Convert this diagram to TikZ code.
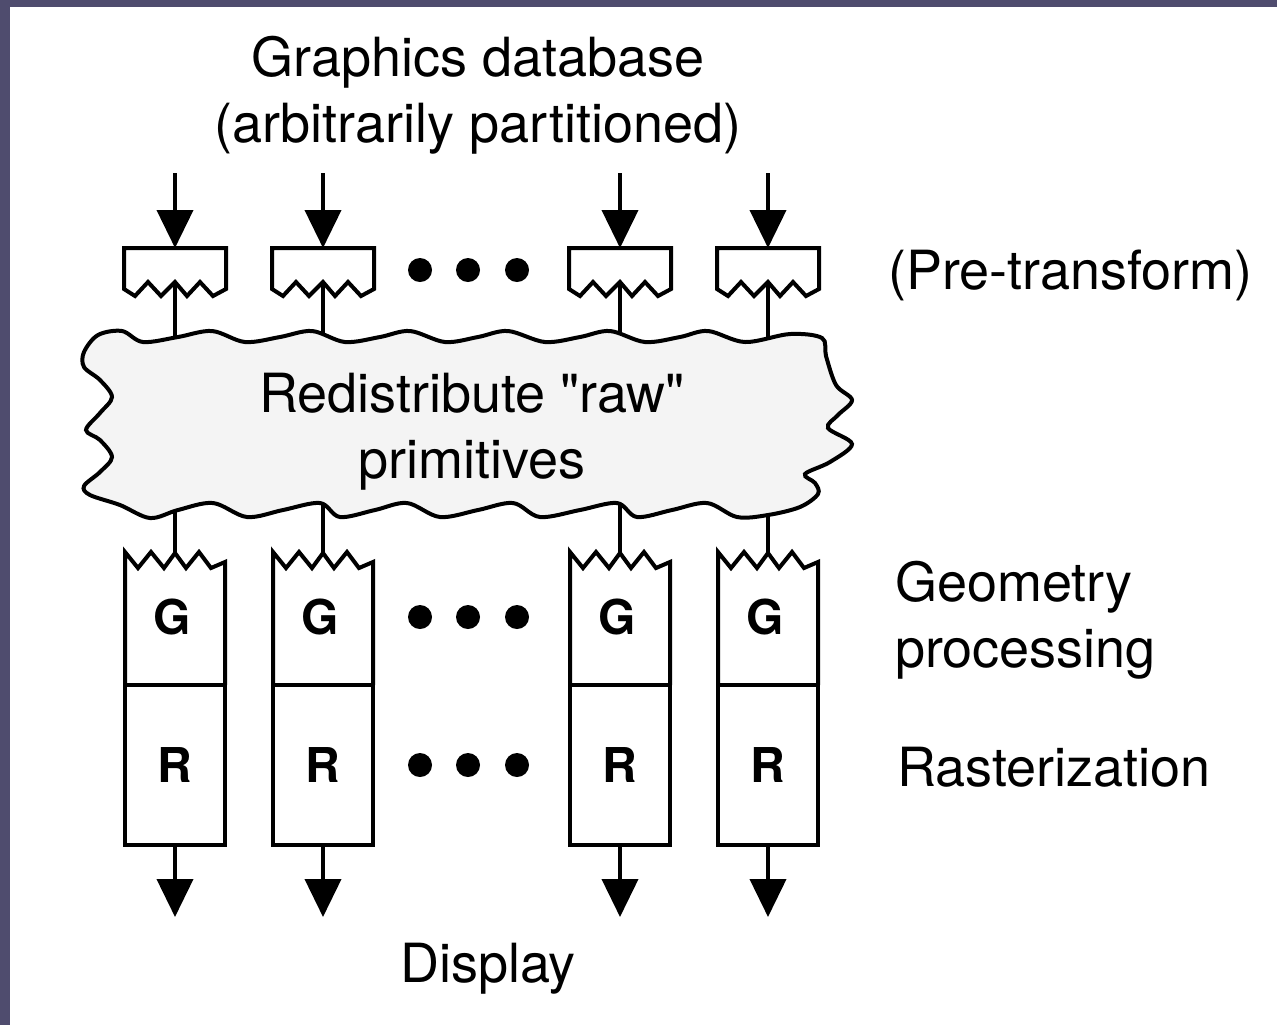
\documentclass[tikz,border=0pt]{standalone}
\usepackage{fontspec}
\setmainfont{TeX Gyre Heros}
\usetikzlibrary{arrows.meta}
\definecolor{frame}{HTML}{4F4C6E}
\definecolor{cloudgray}{HTML}{F4F4F4}

\begin{document}
\begin{tikzpicture}[x=0.5pt,y=-0.5pt,line width=2pt,
    arr/.style={-{Triangle[width=18pt,length=19pt]}},
    lbl/.style={font=\fontsize{27}{33}\selectfont,inner sep=0pt},
    unit/.style={font=\bfseries\fontsize{24}{28}\selectfont,inner sep=0pt},
    rbox/.style={draw,unit,minimum width=50pt,minimum height=80pt},
    dot/.style={circle,fill=black,inner sep=0pt,minimum size=12pt}]
    % frame
    \fill[frame] (0,0) rectangle (1277,1025);
    \fill[white] (10,7) rectangle (1277,1025);
    \useasboundingbox (0,0) rectangle (1277,1025);

    % columns: x / cloud top / cloud bottom
    \foreach \c/\t/\b [count=\i] in {175/337/512, 323/333/504, 620/333/504, 768/333/515} {
        \coordinate (in\i) at (\c,173);
        \coordinate (pre\i) at (\c,248);
        \coordinate (pz\i) at (\c,283);
        \coordinate (ct\i) at (\c,\t+8);
        \coordinate (cb\i) at (\c,\b-8);
        \coordinate (gz\i) at (\c,554);
        \coordinate (out\i) at (\c,917);
        % pre-transform
        \draw (\c-51,289) -- (\c-51,248) -- (\c+51,248) -- (\c+51,289) -- (\c+38,296) -- (\c+25,282)
            -- (\c+12,296) -- (\c,282) -- (\c-14,296) -- (\c-27,282) -- (\c-40,296) -- cycle;
        \draw[arr] (in\i) -- (pre\i);
        \draw (pz\i) -- (ct\i);
        \draw (cb\i) -- (gz\i);
        % geometry
        \draw (\c-50,685) -- (\c-50,552) -- (\c-37,568) -- (\c-24,552) -- (\c-11,568) -- (\c,553)
            -- (\c+11,568) -- (\c+24,552) -- (\c+36,568) -- (\c+50,562) -- (\c+50,685);
        \node[unit] (g\i) at (\c-3,617) {G};
        % raster
        \node[rbox] (r\i) at (\c,765) {R};
        \draw[arr] (r\i.south) -- (out\i);
    }

    % cloud
    \draw[fill=cloudgray] plot[smooth cycle,tension=0.55] coordinates {
        (84,352) (98,335) (122,331) (143,342) (178,337) (212,331) (245,342) (280,337)
        (312,331) (345,342) (380,337) (410,331) (445,342) (478,337) (508,331) (545,342)
        (580,337) (610,331) (645,342) (680,337) (708,331) (745,342) (790,334) (822,338)
        (826,356) (836,385) (852,400) (838,415) (828,428) (852,444) (830,462) (805,474)
        (815,483) (818,494) (800,507) (768,515) (737,517) (707,503) (672,510) (637,517)
        (617,503) (580,510) (540,517) (513,503) (478,510) (440,517) (407,503) (375,510)
        (340,517) (320,503) (283,510) (247,517) (213,503) (178,510) (150,518) (120,505)
        (90,495) (84,486) (100,472) (112,457) (100,440) (86,430) (100,413) (112,397)
        (100,380) (84,367)};
    \node[lbl,align=center] (redist) at (472,432) {Redistribute \textquotedbl raw\textquotedbl\\primitives};

    % dots
    \foreach \y in {270,617,765}
        \foreach \x in {420,468,517}
            \node[dot] (d-\x-\y) at (\x,\y) {};

    % labels
    \node[lbl,align=center] (db) at (478,95) {Graphics database\\(arbitrarily partitioned)};
    \node[lbl,anchor=west] (pret) at (886,275) {(Pre-transform)};
    \node[lbl,anchor=west,align=left] (geom) at (893,620) {Geometry\\processing};
    \node[lbl,anchor=west] (rast) at (895,767) {Rasterization};
    \node[lbl] (disp) at (488,969) {Display};
\end{tikzpicture}
\end{document}
